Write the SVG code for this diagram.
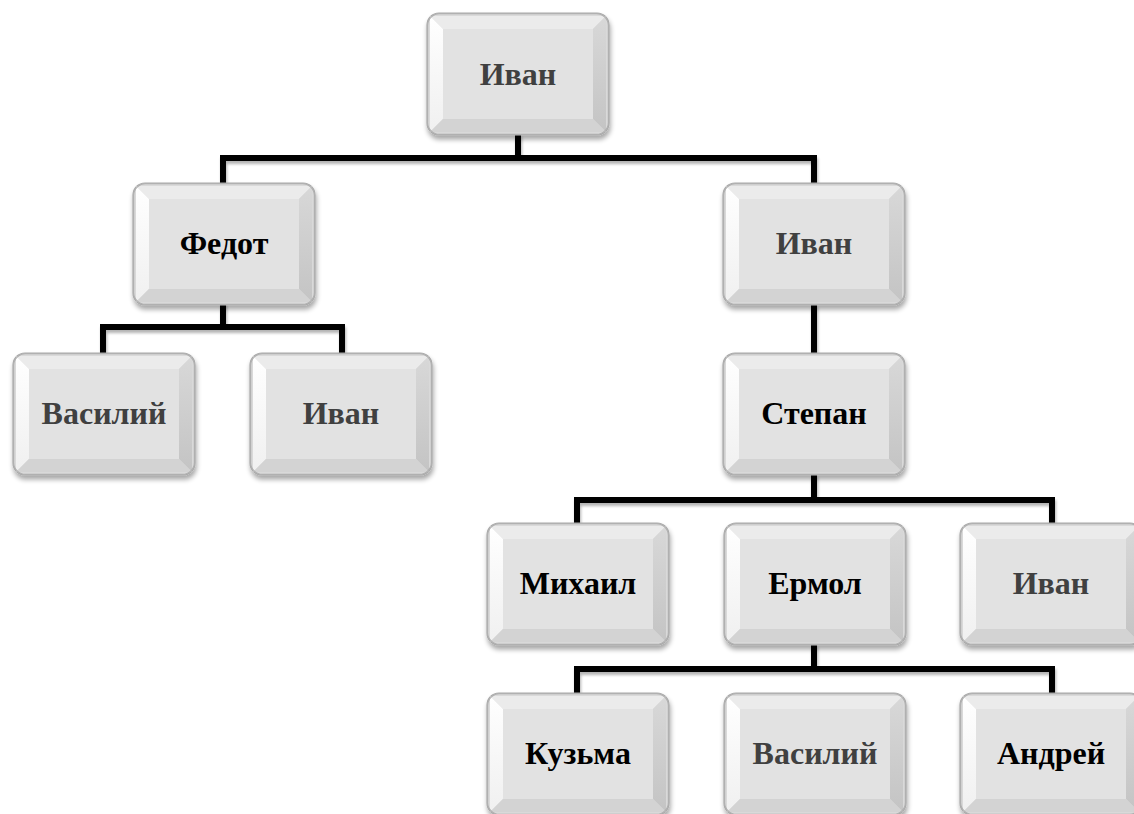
<svg xmlns="http://www.w3.org/2000/svg" width="1134" height="814" viewBox="0 0 1134 814">
<style>
.lbl{font-family:"Liberation Serif","Times New Roman",serif;font-weight:bold;font-size:32px;text-anchor:middle}
.g{fill:#404040}
.k{fill:#000}
.con{fill:none;stroke:#000;stroke-width:6;stroke-linejoin:miter;stroke-linecap:butt}
</style>
<defs>
<filter id="sh" x="-10%" y="-10%" width="125%" height="130%">
<feGaussianBlur in="SourceAlpha" stdDeviation="2.5"/>
<feOffset dx="1" dy="4" result="b"/>
<feComponentTransfer><feFuncA type="linear" slope="0.35"/></feComponentTransfer>
<feMerge><feMergeNode/><feMergeNode in="SourceGraphic"/></feMerge>
</filter>
<filter id="lsh" x="-5%" y="-20%" width="110%" height="160%">
<feGaussianBlur in="SourceAlpha" stdDeviation="1.5"/>
<feOffset dx="1" dy="3"/>
<feComponentTransfer><feFuncA type="linear" slope="0.3"/></feComponentTransfer>
<feMerge><feMergeNode/><feMergeNode in="SourceGraphic"/></feMerge>
</filter>
<linearGradient id="lf" x1="0" y1="0" x2="0" y2="1">
<stop offset="0" stop-color="#ffffff"/><stop offset="1" stop-color="#f0f0f0"/>
</linearGradient>
<linearGradient id="rf" x1="0" y1="0" x2="0" y2="1">
<stop offset="0" stop-color="#d8d8d8"/><stop offset="1" stop-color="#c4c4c4"/>
</linearGradient>
<clipPath id="cp"><rect x="0" y="0" width="182" height="122" rx="12"/></clipPath>
<g id="bev">
<rect x="0" y="0" width="182" height="122" rx="12" fill="#d9d9d9" stroke="#a9a9a9" stroke-width="1.2" filter="url(#sh)"/>
<g clip-path="url(#cp)">
<polygon points="3,3 179,3 166,16 16,16" fill="#ebebeb"/>
<polygon points="3,3 16,16 16,106 3,119" fill="url(#lf)"/>
<polygon points="179,3 179,119 166,106 166,16" fill="url(#rf)"/>
<polygon points="3,119 179,119 166,106 16,106" fill="#d3d3d3"/>
<rect x="16" y="16" width="150" height="90" fill="#e2e2e2"/>
</g>
<rect x="0.6" y="0.6" width="180.8" height="120.8" rx="12" fill="none" stroke="#b0b0b0" stroke-width="1.2"/>
</g>
</defs>
<rect width="1134" height="814" fill="#fff"/>

<g id="connectors" filter="url(#lsh)">
<path class="con" d="M518,134 V158 M223,183 V158 H814 V183"/>
<path class="con" d="M223,302 V327 M103,353 V327 H342 V353"/>
<path class="con" d="M814,304 V353"/>
<path class="con" d="M814,474 V500 M577,523 V500 H1052 V523"/>
<path class="con" d="M814,644 V669 M577,693 V669 H1052 V693"/>
</g>

<g id="n-ivan-top" transform="translate(427,13)"><use href="#bev"/><text class="lbl g" x="91" y="72">Иван</text></g>
<g id="n-fedot" transform="translate(133,183)"><use href="#bev"/><text class="lbl k" x="91" y="71">Федот</text></g>
<g id="n-ivan-1" transform="translate(723,183)"><use href="#bev"/><text class="lbl g" x="91" y="71">Иван</text></g>
<g id="n-vasiliy-1" transform="translate(13,353)"><use href="#bev"/><text class="lbl g" x="91" y="71">Василий</text></g>
<g id="n-ivan-2" transform="translate(250,353)"><use href="#bev"/><text class="lbl g" x="91" y="71">Иван</text></g>
<g id="n-stepan" transform="translate(723,353)"><use href="#bev"/><text class="lbl k" x="91" y="71">Степан</text></g>
<g id="n-mihail" transform="translate(487,523)"><use href="#bev"/><text class="lbl k" x="91" y="71">Михаил</text></g>
<g id="n-ermol" transform="translate(724,523)"><use href="#bev"/><text class="lbl k" x="91" y="71">Ермол</text></g>
<g id="n-ivan-3" transform="translate(960,523)"><use href="#bev"/><text class="lbl g" x="91" y="71">Иван</text></g>
<g id="n-kuzma" transform="translate(487,693)"><use href="#bev"/><text class="lbl k" x="91" y="71">Кузьма</text></g>
<g id="n-vasiliy-2" transform="translate(724,693)"><use href="#bev"/><text class="lbl g" x="91" y="71">Василий</text></g>
<g id="n-andrey" transform="translate(960,693)"><use href="#bev"/><text class="lbl k" x="91" y="71">Андрей</text></g>
</svg>
